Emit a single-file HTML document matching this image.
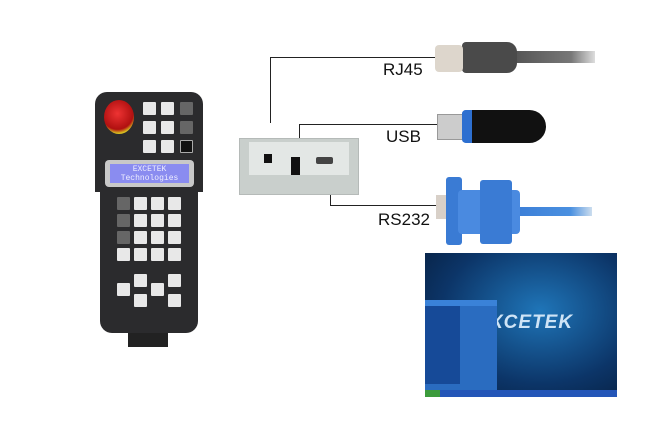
<!DOCTYPE html>
<html><head><style>
body{margin:0;width:660px;height:440px;background:#fff;position:relative;overflow:hidden;font-family:"Liberation Sans",sans-serif}
div{position:absolute;box-sizing:border-box}
.ln{background:#222}
.lbl{font-size:17px;color:#111}
.k{width:13px;height:13px;background:#e8e8e8;border-radius:1px}
.kd{background:#666}
</style></head><body>
<!-- pendant -->
<div style="left:128px;top:325px;width:40px;height:22px;background:#222"></div>
<div style="left:95px;top:92px;width:108px;height:100px;background:#2b2b2d;border-radius:12px 12px 0 0"></div>
<div style="left:100px;top:180px;width:98px;height:153px;background:#2b2b2d;border-radius:0 0 12px 12px"></div>
<div style="left:104px;top:100px;width:30px;height:34px;border-radius:50%;background:radial-gradient(circle at 45% 40%,#e33 0,#b01010 60%,#d8c020 75%)"></div>
<div style="left:143px;top:102px" class="k"></div><div style="left:161px;top:102px" class="k"></div><div style="left:180px;top:102px" class="k kd"></div>
<div style="left:143px;top:121px" class="k"></div><div style="left:161px;top:121px" class="k"></div><div style="left:180px;top:121px" class="k kd"></div>
<div style="left:143px;top:140px" class="k"></div><div style="left:161px;top:140px" class="k"></div><div style="left:180px;top:140px;background:#111;border:1px solid #aaa" class="k"></div>
<div style="left:105px;top:160px;width:89px;height:27px;background:#c8c8c8;border-radius:4px"></div>
<div style="left:110px;top:164px;width:79px;height:19px;background:#8a8cf0;color:#eef;font-size:8px;line-height:9px;text-align:center;font-family:'Liberation Mono',monospace;padding-top:1px">EXCETEK<br>Technologies</div>
<div style="left:117px;top:197px" class="k kd"></div><div style="left:134px;top:197px" class="k"></div><div style="left:151px;top:197px" class="k"></div><div style="left:168px;top:197px" class="k"></div>
<div style="left:117px;top:214px" class="k kd"></div><div style="left:134px;top:214px" class="k"></div><div style="left:151px;top:214px" class="k"></div><div style="left:168px;top:214px" class="k"></div>
<div style="left:117px;top:231px" class="k kd"></div><div style="left:134px;top:231px" class="k"></div><div style="left:151px;top:231px" class="k"></div><div style="left:168px;top:231px" class="k"></div>
<div style="left:117px;top:248px" class="k"></div><div style="left:134px;top:248px" class="k"></div><div style="left:151px;top:248px" class="k"></div><div style="left:168px;top:248px" class="k"></div>
<div style="left:117px;top:283px" class="k"></div><div style="left:134px;top:274px" class="k"></div><div style="left:134px;top:294px" class="k"></div><div style="left:151px;top:283px" class="k"></div><div style="left:168px;top:274px" class="k"></div><div style="left:168px;top:294px" class="k"></div>
<!-- panel -->
<div style="left:239px;top:138px;width:120px;height:57px;background:#c9cfcc;border:1px solid #b5bab8"></div>
<div style="left:249px;top:142px;width:100px;height:33px;background:#e3e7e5"></div>
<div style="left:264px;top:154px;width:8px;height:9px;background:#111"></div>
<div style="left:291px;top:157px;width:9px;height:18px;background:#111"></div>
<div style="left:316px;top:157px;width:17px;height:7px;background:#444;border-radius:2px"></div>
<!-- lines -->
<div class="ln" style="left:270px;top:57px;width:1px;height:66px"></div>
<div class="ln" style="left:270px;top:57px;width:166px;height:1px"></div>
<div class="ln" style="left:299px;top:124px;width:1px;height:14px"></div>
<div class="ln" style="left:299px;top:124px;width:139px;height:1px"></div>
<div class="ln" style="left:330px;top:195px;width:1px;height:11px"></div>
<div class="ln" style="left:330px;top:205px;width:106px;height:1px"></div>
<div class="lbl" style="left:383px;top:60px">RJ45</div>
<div class="lbl" style="left:386px;top:127px">USB</div>
<div class="lbl" style="left:378px;top:210px">RS232</div>
<!-- RJ45 -->
<div style="left:515px;top:51px;width:80px;height:12px;background:linear-gradient(90deg,#555,#777 70%,#ddd)"></div>
<div style="left:462px;top:42px;width:55px;height:31px;background:#4a4a4a;border-radius:4px 10px 10px 4px"></div>
<div style="left:435px;top:45px;width:28px;height:27px;background:#ddd6cc;border-radius:4px"></div>
<!-- USB -->
<div style="left:437px;top:114px;width:27px;height:26px;background:#ccc;border:1px solid #999"></div>
<div style="left:462px;top:110px;width:84px;height:33px;background:#111;border-radius:4px 18px 18px 4px;border-left:10px solid #2d6fd0"></div>
<!-- DB9 -->
<div style="left:520px;top:207px;width:72px;height:9px;background:linear-gradient(90deg,#3d80d8,#4a90e0 70%,#cde)"></div>
<div style="left:436px;top:195px;width:12px;height:24px;background:#d8d0c8"></div>
<div style="left:446px;top:177px;width:16px;height:68px;background:#3a7bd4;border-radius:3px"></div>
<div style="left:458px;top:190px;width:62px;height:44px;background:#4a8ae0;border-radius:4px"></div>
<div style="left:480px;top:180px;width:32px;height:64px;background:#3a7bd4;border-radius:3px"></div>
<!-- screen -->
<div style="left:425px;top:253px;width:192px;height:144px;background:radial-gradient(ellipse at 60% 40%,#1f75b8,#0c3568 60%,#061c3a)"></div>
<div style="left:490px;top:312px;font-size:19px;font-weight:bold;font-style:italic;color:#cfe4f6;letter-spacing:1px">XCETEK</div>
<div style="left:425px;top:300px;width:72px;height:90px;background:#2a6cc0"></div>
<div style="left:425px;top:300px;width:72px;height:6px;background:#3a82d8"></div>
<div style="left:425px;top:306px;width:35px;height:78px;background:#164a98"></div>
<div style="left:425px;top:390px;width:192px;height:7px;background:#2456b8"></div>
<div style="left:425px;top:390px;width:15px;height:7px;background:#3c9b3c"></div>
</body></html>
